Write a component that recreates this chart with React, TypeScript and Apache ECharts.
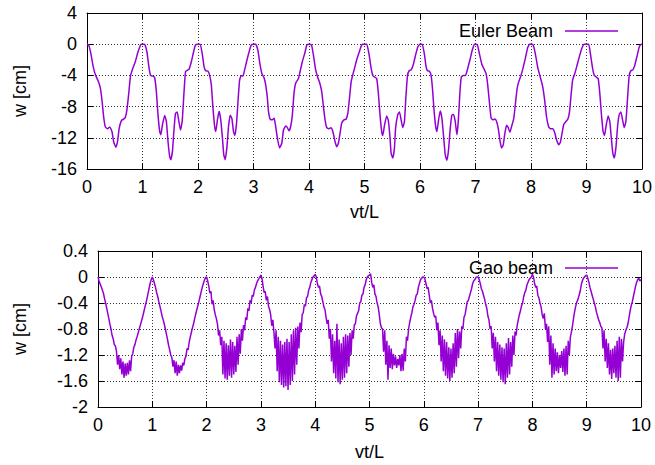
import React, { useEffect, useRef } from "react";
import * as echarts from "echarts";

// ---------- Euler beam (top) : [vt/L, w(cm)] ----------
const eulerP0: [number, number][] = [[0,0],[0.03,-0.1],[0.07,-1.2],[0.11,-2.8],[0.15,-3.9],[0.2,-4.7],[0.24,-5.6],[0.27,-7.2],[0.3,-9.3],[0.33,-10.6],[0.37,-10.85],[0.41,-10.6],[0.45,-11.2],[0.48,-12.5],[0.52,-13.2],[0.55,-12.5],[0.58,-10.8],[0.62,-9.8],[0.66,-9.6],[0.69,-9.4],[0.72,-8.4],[0.755,-6.1],[0.785,-4.0],[0.82,-3.2],[0.87,-2.25],[0.91,-1.2],[0.95,-0.35],[0.975,0]];
const eulerP1: [number, number][] = [[1,0],[1.037,0],[1.08,-1.0],[1.115,-2.9],[1.145,-4.0],[1.19,-4.1],[1.22,-4.3],[1.25,-6.1],[1.28,-9.1],[1.31,-11.2],[1.33,-11.6],[1.36,-10.3],[1.4,-9.15],[1.43,-9.9],[1.46,-12.5],[1.49,-14.4],[1.51,-14.8],[1.54,-13.7],[1.565,-11.2],[1.595,-8.85],[1.625,-8.7],[1.655,-9.9],[1.685,-11.0],[1.715,-9.9],[1.745,-6.5],[1.775,-3.5],[1.805,-3.36],[1.84,-3.2],[1.88,-2.25],[1.92,-1.0],[1.955,-0.1]];
const eulerP2: [number, number][] = [[2,0],[2.04,0],[2.08,-1.4],[2.11,-2.9],[2.14,-3.4],[2.18,-3.45],[2.21,-4.0],[2.24,-5.2],[2.27,-8.2],[2.3,-10.55],[2.32,-11.2],[2.35,-9.7],[2.38,-8.6],[2.41,-9.7],[2.44,-12.0],[2.465,-14.2],[2.49,-14.8],[2.52,-13.3],[2.55,-10.55],[2.58,-9.1],[2.61,-9.5],[2.64,-11.2],[2.665,-11.7],[2.695,-10.1],[2.725,-6.9],[2.75,-4.6],[2.78,-4.0],[2.81,-4.1],[2.84,-3.3],[2.875,-2.25],[2.92,-1.0],[2.96,-0.1]];
const eulerP3: [number, number][] = [[3,0],[3.04,0],[3.08,-0.8],[3.115,-2.5],[3.15,-3.75],[3.19,-4.3],[3.22,-5.2],[3.25,-6.9],[3.27,-8.6],[3.3,-9.6],[3.34,-9.7],[3.37,-9.5],[3.39,-10.1],[3.43,-12.0],[3.47,-13.3],[3.51,-12.7],[3.54,-11.0],[3.58,-10.5],[3.61,-10.7],[3.64,-11.1],[3.67,-10.55],[3.7,-9.1],[3.73,-6.3],[3.76,-5.0],[3.81,-4.4],[3.84,-3.5],[3.88,-2.25],[3.93,-1.0],[3.96,-0.1]];
const eulerP4: [number, number][] = [[4,0],[4.045,-0.1],[4.08,-1.4],[4.12,-3.3],[4.155,-4.2],[4.195,-5.0],[4.23,-6.1],[4.26,-8.0],[4.29,-9.7],[4.32,-10.7],[4.36,-10.85],[4.395,-10.7],[4.43,-11.2],[4.47,-12.5],[4.5,-13.15],[4.53,-12.7],[4.56,-11.4],[4.59,-10.1],[4.63,-9.7],[4.67,-9.6],[4.7,-8.85],[4.73,-6.9],[4.76,-4.8],[4.79,-3.9],[4.82,-3.1],[4.86,-2.0],[4.91,-0.9],[4.95,-0.1],[4.98,0]];
const eulerP5: [number, number][] = [[5,0],[5.04,0],[5.08,-1.2],[5.12,-3.1],[5.15,-4.0],[5.18,-4.2],[5.22,-4.4],[5.25,-6.3],[5.28,-9.1],[5.31,-11.2],[5.33,-11.7],[5.36,-10.4],[5.4,-9.2],[5.43,-9.8],[5.46,-12.0],[5.48,-14.0],[5.51,-14.6],[5.54,-13.3],[5.56,-10.8],[5.6,-9.0],[5.63,-8.7],[5.66,-9.7],[5.69,-10.7],[5.72,-9.9],[5.745,-6.9],[5.775,-4.0],[5.805,-3.4],[5.84,-3.3],[5.88,-2.6],[5.92,-1.4],[5.96,-0.35]];
const eulerP6: [number, number][] = [[6,0],[6.04,0],[6.08,-1.3],[6.11,-2.9],[6.135,-3.4],[6.17,-3.45],[6.2,-4.0],[6.225,-5.7],[6.25,-8.2],[6.28,-10.4],[6.305,-11.2],[6.335,-9.7],[6.365,-8.55],[6.395,-9.5],[6.425,-11.8],[6.455,-14.2],[6.485,-14.9],[6.515,-13.5],[6.545,-10.8],[6.575,-9.1],[6.605,-9.0],[6.635,-9.9],[6.665,-11.6],[6.69,-9.9],[6.72,-6.1],[6.745,-4.2],[6.78,-4.0],[6.82,-4.0],[6.86,-3.1],[6.9,-2.0],[6.94,-0.8],[6.98,0]];
const eulerP7: [number, number][] = [[7,0],[7.035,-0.1],[7.07,-1.2],[7.115,-2.6],[7.155,-3.2],[7.19,-3.75],[7.22,-5.2],[7.25,-7.4],[7.28,-9.4],[7.31,-9.7],[7.35,-9.6],[7.38,-9.9],[7.41,-10.8],[7.44,-12.3],[7.47,-13.3],[7.5,-12.9],[7.53,-11.4],[7.56,-10.4],[7.59,-10.7],[7.62,-11.3],[7.65,-10.55],[7.69,-9.5],[7.72,-7.6],[7.75,-5.7],[7.78,-4.8],[7.82,-4.0],[7.855,-3.1],[7.9,-1.75],[7.94,-0.45],[7.975,0]];
const eulerP8: [number, number][] = [[8,0],[8.04,-0.1],[8.08,-1.3],[8.125,-3.1],[8.17,-4.3],[8.21,-5.4],[8.245,-7.1],[8.28,-9.3],[8.316,-10.55],[8.35,-10.85],[8.39,-10.85],[8.425,-11.3],[8.46,-12.25],[8.5,-12.9],[8.53,-12.55],[8.56,-11.4],[8.59,-10.3],[8.63,-9.9],[8.665,-9.6],[8.695,-8.6],[8.725,-6.3],[8.75,-4.6],[8.79,-3.75],[8.83,-2.7],[8.875,-1.5],[8.92,-0.45],[8.96,0]];
const eulerP9: [number, number][] = [[9,0],[9.04,0],[9.07,-1.2],[9.11,-3.1],[9.14,-4.0],[9.175,-4.2],[9.21,-4.4],[9.24,-6.3],[9.27,-9.1],[9.3,-11.2],[9.325,-11.7],[9.355,-10.4],[9.39,-9.2],[9.42,-9.9],[9.45,-12.25],[9.475,-14.0],[9.5,-14.6],[9.53,-13.3],[9.56,-10.55],[9.59,-9.0],[9.62,-8.7],[9.65,-9.7],[9.68,-10.7],[9.71,-9.9],[9.74,-6.9],[9.77,-4.0],[9.8,-3.4],[9.835,-3.3],[9.87,-2.7],[9.915,-1.4],[9.95,-0.35],[9.985,0],[10,0]];
const eulerPeriods = [eulerP0, eulerP1, eulerP2, eulerP3, eulerP4, eulerP5, eulerP6, eulerP7, eulerP8, eulerP9];

// ---------- Gao beam (bottom) : w(cm) sampled every 0.02 of vt/L, one array per period ----------
const gaoStep = 0.02;
const gaoP0 = [0,-0.06,-0.11,-0.15,-0.2,-0.25,-0.33,-0.4,-0.48,-0.56,-0.64,-0.73,-0.8,-0.9,-0.95,-1.04,-1.06,-1.14,-1.35,-1.2,-1.42,-1.25,-1.5,-1.3,-1.55,-1.33,-1.52,-1.32,-1.5,-1.28,-1.45,-1.22,-1.18,-1.08,-1.04,-0.97,-0.92,-0.86,-0.8,-0.74,-0.68,-0.62,-0.55,-0.48,-0.41,-0.34,-0.26,-0.18,-0.1,-0.04];
const gaoP1 = [0,-0.04,-0.1,-0.16,-0.24,-0.3,-0.38,-0.45,-0.52,-0.6,-0.66,-0.72,-0.8,-0.88,-0.96,-1.05,-1.12,-1.2,-1.24,-1.38,-1.28,-1.48,-1.3,-1.52,-1.35,-1.48,-1.36,-1.44,-1.32,-1.36,-1.26,-1.22,-1.1,-1.12,-1.0,-0.92,-0.85,-0.78,-0.72,-0.64,-0.57,-0.5,-0.44,-0.37,-0.3,-0.23,-0.16,-0.1,-0.05,-0.01];
const gaoP2 = [0,-0.06,-0.14,-0.25,-0.22,-0.42,-0.36,-0.5,-0.58,-0.64,-0.72,-0.9,-0.82,-1.05,-0.92,-1.5,-0.98,-1.56,-1.02,-1.58,-1.05,-1.52,-0.96,-1.55,-1.0,-1.5,-1.06,-1.46,-0.92,-1.35,-0.88,-1.18,-0.8,-0.98,-0.74,-0.82,-0.62,-0.66,-0.48,-0.52,-0.36,-0.4,-0.28,-0.3,-0.2,-0.16,-0.1,-0.06,-0.03,0];
const gaoP3 = [0.03,-0.02,-0.14,-0.24,-0.22,-0.36,-0.3,-0.45,-0.5,-0.58,-0.75,-0.66,-0.85,-1.1,-0.82,-1.45,-0.92,-1.62,-0.98,-1.66,-1.04,-1.7,-1.0,-1.68,-0.95,-1.74,-1.0,-1.66,-0.88,-1.6,-0.82,-1.5,-0.78,-1.35,-0.76,-1.1,-0.7,-0.85,-0.58,-0.55,-0.42,-0.45,-0.32,-0.3,-0.2,-0.16,-0.08,-0.04,0,0.02];
const gaoP4 = [0.04,0,-0.1,-0.16,-0.14,-0.26,-0.3,-0.38,-0.46,-0.5,-0.62,-0.72,-0.66,-0.95,-0.8,-1.3,-0.88,-1.48,-0.98,-1.56,-0.72,-1.62,-0.96,-1.65,-1.02,-1.58,-0.92,-1.55,-0.88,-1.48,-0.9,-1.38,-0.86,-1.2,-0.82,-0.95,-0.74,-0.72,-0.6,-0.56,-0.52,-0.4,-0.38,-0.28,-0.26,-0.16,-0.12,-0.04,0,0.02];
const gaoP5 = [0.03,0.05,-0.08,-0.16,-0.12,-0.26,-0.3,-0.4,-0.46,-0.58,-0.72,-0.78,-0.8,-1.15,-0.82,-1.35,-0.98,-1.58,-1.05,-1.4,-1.1,-1.42,-1.18,-1.36,-1.22,-1.4,-1.26,-1.36,-1.2,-1.45,-1.18,-1.44,-1.1,-1.3,-0.92,-0.98,-0.8,-0.7,-0.62,-0.55,-0.46,-0.42,-0.36,-0.28,-0.26,-0.16,-0.1,-0.04,-0.02,0];
const gaoP6 = [0,-0.03,-0.1,-0.18,-0.16,-0.28,-0.4,-0.36,-0.48,-0.56,-0.62,-0.6,-0.82,-0.7,-1.05,-0.82,-1.3,-0.9,-1.45,-0.96,-1.52,-1.0,-1.56,-1.08,-1.6,-1.1,-1.55,-1.02,-1.48,-0.86,-1.38,-0.8,-1.25,-0.84,-1.1,-0.76,-0.8,-0.62,-0.58,-0.48,-0.38,-0.36,-0.3,-0.24,-0.18,-0.1,-0.06,-0.04,-0.01,0];
const gaoP7 = [0,-0.04,-0.1,-0.18,-0.22,-0.28,-0.34,-0.42,-0.48,-0.6,-0.66,-0.8,-0.76,-1.1,-0.86,-1.3,-0.92,-1.45,-1.0,-1.52,-1.04,-1.58,-1.08,-1.62,-1.1,-1.65,-1.02,-1.55,-0.94,-1.5,-1.0,-1.38,-0.9,-1.2,-0.84,-0.9,-0.74,-0.66,-0.58,-0.52,-0.44,-0.4,-0.3,-0.24,-0.2,-0.12,-0.08,-0.04,-0.02,0];
const gaoP8 = [0.04,0,-0.1,-0.16,-0.14,-0.28,-0.32,-0.4,-0.46,-0.58,-0.64,-0.56,-0.8,-0.72,-1.0,-0.76,-1.35,-0.9,-1.55,-1.02,-1.5,-1.1,-1.45,-1.16,-1.48,-1.2,-1.4,-1.14,-1.46,-1.1,-1.52,-1.06,-1.5,-0.98,-1.2,-0.92,-0.84,-0.74,-0.62,-0.52,-0.44,-0.38,-0.34,-0.28,-0.22,-0.12,-0.06,-0.02,0,0.02];
const gaoP9 = [0.03,-0.02,-0.08,-0.16,-0.22,-0.28,-0.34,-0.4,-0.46,-0.54,-0.6,-0.66,-0.7,-0.76,-0.78,-1.1,-0.82,-1.3,-0.95,-1.4,-1.02,-1.5,-1.12,-1.57,-1.1,-1.48,-1.06,-1.55,-0.98,-1.6,-0.92,-1.55,-0.95,-1.3,-1.0,-0.88,-0.82,-0.78,-0.72,-0.62,-0.52,-0.44,-0.38,-0.3,-0.22,-0.14,-0.08,-0.04,-0.02,-0.06];
const gaoEnd: [number, number] = [10, -0.04];
const gaoPeriods = [gaoP0, gaoP1, gaoP2, gaoP3, gaoP4, gaoP5, gaoP6, gaoP7, gaoP8, gaoP9];

const PURPLE = "#9400D3";
const FONT = "'Liberation Sans', Arial, Helvetica, sans-serif";

export default function App() {
  const ref = useRef<HTMLDivElement>(null);
  useEffect(() => {
    const chart = echarts.init(ref.current!, null, { renderer: "svg" });
    const eulerData = eulerPeriods.flat();
    const gaoData: [number, number][] = [];
    gaoPeriods.forEach((arr, k) =>
      arr.forEach((v, i) => gaoData.push([+(k + i * gaoStep).toFixed(2), v]))
    );
    gaoData.push(gaoEnd);

    const txt = { color: "#000", fontSize: 18, fontFamily: FONT };
    const axisLine = { show: true, onZero: false, lineStyle: { color: "#000", width: 1 } };
    const split = { show: true, lineStyle: { color: "#333", width: 1, type: [1, 2] as any } };
    const tick = { show: true, inside: true, length: 6, lineStyle: { color: "#000" } };

    const mkX = (grid: number, gap: number, main: boolean) => ({
      type: "value",
      gridIndex: grid,
      position: main ? "bottom" : "top",
      min: 0,
      max: 10,
      interval: 1,
      name: main ? "vt/L" : "",
      nameLocation: "middle",
      nameGap: gap,
      nameTextStyle: txt,
      axisLine,
      axisTick: tick,
      axisLabel: { show: main, ...txt, margin: 9 },
      splitLine: main ? split : { show: false },
    });
    const mkY = (grid: number, min: number, max: number, interval: number, gap: number, main: boolean) => ({
      type: "value",
      gridIndex: grid,
      position: main ? "left" : "right",
      min,
      max,
      interval,
      name: main ? "w [cm]" : "",
      nameLocation: "middle",
      nameGap: gap,
      nameTextStyle: txt,
      axisLine,
      axisTick: tick,
      axisLabel: {
        show: main,
        ...txt,
        margin: 10,
        formatter: (v: number) => String(Math.round(v * 10) / 10),
      },
      splitLine: main ? split : { show: false },
    });

    const legendBase = {
      orient: "horizontal",
      align: "right",
      padding: 0,
      itemWidth: 53,
      itemHeight: 1.5,
      icon: "rect",
      selectedMode: false,
      textStyle: { ...txt, padding: [0, 7, 0, 0] },
    };

    chart.setOption({
      animation: false,
      backgroundColor: "#fff",
      grid: [
        { left: 87, right: 13, top: 13, bottom: 296 },
        { left: 98, right: 14, top: 251, bottom: 58 },
      ],
      legend: [
        { ...legendBase, data: ["Euler Beam"], right: 37, top: 22 },
        { ...legendBase, data: ["Gao beam"], right: 37, top: 259 },
      ],
      xAxis: [mkX(0, 34, true), mkX(0, 0, false), mkX(1, 36, true), mkX(1, 0, false)],
      yAxis: [
        mkY(0, -16, 4, 4, 58, true),
        mkY(0, -16, 4, 4, 0, false),
        mkY(1, -2, 0.4, 0.4, 69, true),
        mkY(1, -2, 0.4, 0.4, 0, false),
      ],
      series: [
        {
          type: "line",
          name: "Euler Beam",
          xAxisIndex: 0,
          yAxisIndex: 0,
          data: eulerData,
          symbol: "none",
          showSymbol: false,
          smooth: 0.15,
          lineStyle: { color: PURPLE, width: 1.5 },
          itemStyle: { color: PURPLE },
        },
        {
          type: "line",
          name: "Gao beam",
          xAxisIndex: 2,
          yAxisIndex: 2,
          data: gaoData,
          symbol: "none",
          showSymbol: false,
          lineStyle: { color: PURPLE, width: 1.5 },
          itemStyle: { color: PURPLE },
        },
      ],
    });
    return () => chart.dispose();
  }, []);
  return (
    <div
      ref={ref}
      style={{ position: "fixed", left: 0, top: 0, width: 655, height: 465, background: "#fff" }}
    />
  );
}
